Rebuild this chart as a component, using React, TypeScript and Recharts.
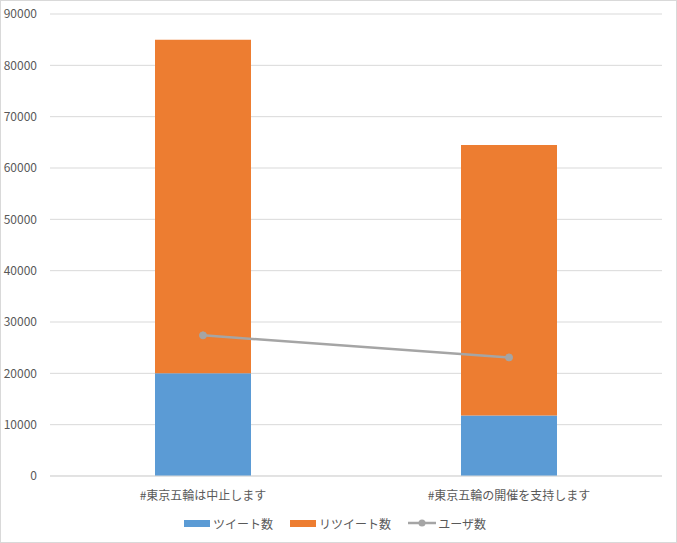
import React from 'react';
import { ComposedChart, Bar, Line, XAxis, YAxis, CartesianGrid, Legend } from 'recharts';

const categories = ['#東京五輪は中止します', '#東京五輪の開催を支持します'];
const tweets = [20000, 11800];
const retweets = [65000, 52700];
const users = [27400, 23100];
const yTicks = [0, 10000, 20000, 30000, 40000, 50000, 60000, 70000, 80000, 90000];
const legendOrder = ['ツイート数', 'リツイート数', 'ユーザ数'];

const data = categories.map((name, i) => ({
  name,
  tweets: tweets[i],
  retweets: retweets[i],
  users: users[i],
}));

const FONT = '"Noto Sans CJK JP", "Noto Sans", sans-serif';
const TEXT = '#595959';

const LegendContent = (props: any) => {
  const items = [...(props.payload || [])].sort(
    (a: any, b: any) => legendOrder.indexOf(a.value) - legendOrder.indexOf(b.value)
  );
  return (
    <div style={{ display: 'flex', justifyContent: 'center', alignItems: 'center', fontFamily: FONT, fontSize: 12, color: TEXT, height: 30, boxSizing: 'border-box', paddingTop: 4, paddingLeft: 8 }}>
      {items.map((it: any, i: number) => (
        <div key={i} style={{ display: 'flex', alignItems: 'center', marginRight: i < items.length - 1 ? 17 : 0 }}>
          {it.type === 'line' ? (
            <svg width={28} height={10} style={{ marginRight: 2 }}>
              <line x1={0} y1={5} x2={28} y2={5} stroke={it.color} strokeWidth={2.5} />
              <circle cx={14} cy={5} r={3.5} fill={it.color} />
            </svg>
          ) : (
            <div style={{ width: 26, height: 7, background: it.color, marginRight: 3 }} />
          )}
          <span>{it.value}</span>
        </div>
      ))}
    </div>
  );
};

export default function App() {
  return (
    <div style={{ position: 'fixed', left: 0, top: 0, width: 677, height: 543, background: '#fff' }}>
      <div style={{ position: 'absolute', left: 0, top: 0, width: 675, height: 541, border: '1px solid #d9d9d9' }} />
      <ComposedChart
        width={677}
        height={543}
        data={data}
        margin={{ top: 14, right: 15, left: 0, bottom: 7 }}
        barCategoryGap={0}
      >
        <CartesianGrid vertical={false} stroke="#d9d9d9" strokeWidth={1} />
        <XAxis
          dataKey="name"
          axisLine={{ stroke: '#d9d9d9' }}
          tickLine={false}
          height={30}
          tick={{ fill: TEXT, fontSize: 12, fontFamily: FONT }}
          tickMargin={9}
        />
        <YAxis
          width={50}
          domain={[0, 90000]}
          ticks={yTicks}
          axisLine={false}
          tickLine={false}
          tick={{ fill: TEXT, fontSize: 12, fontFamily: FONT }}
          tickMargin={7}
        />
        <Legend verticalAlign="bottom" height={30} content={<LegendContent />} />
        <Bar dataKey="tweets" name="ツイート数" stackId="a" fill="#5B9BD5" barSize={96} isAnimationActive={false} legendType="rect" />
        <Bar dataKey="retweets" name="リツイート数" stackId="a" fill="#ED7D31" barSize={96} isAnimationActive={false} legendType="rect" />
        <Line
          dataKey="users"
          name="ユーザ数"
          stroke="#A5A5A5"
          strokeWidth={2.5}
          dot={{ r: 3.5, fill: '#A5A5A5', stroke: '#A5A5A5', strokeWidth: 1 }}
          activeDot={false}
          isAnimationActive={false}
          legendType="line"
        />
      </ComposedChart>
    </div>
  );
}
